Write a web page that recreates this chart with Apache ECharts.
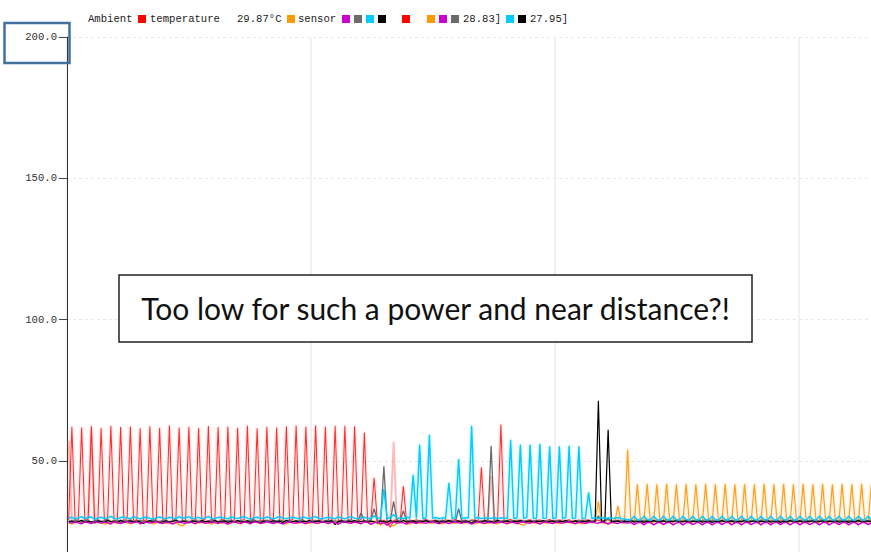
<!DOCTYPE html>
<html><head><meta charset="utf-8">
<script src="https://cdn.jsdelivr.net/npm/echarts@6/dist/echarts.min.js"></script>
<style>html,body{margin:0;padding:0;background:#fff}#c{width:871px;height:552px}</style>
</head><body><div id="c"></div><script>
// y axis ticks
const yTickMin = 0, yTickMax = 200, yTickStep = 50;

// Series values, one value per sample
const redSensor = [
29.0,62.0,28.6,29.2,61.8,28.8,29.4,62.3,28.5,29.1,
61.6,28.9,29.3,62.4,28.4,29.0,61.9,28.7,29.5,62.1,
28.6,29.2,61.5,28.8,29.0,62.2,28.5,29.4,61.7,28.9,
29.1,62.5,28.6,29.3,61.8,28.7,29.0,62.0,28.4,29.2,
61.6,28.8,29.4,62.3,28.6,29.1,61.9,28.9,29.3,62.1,
28.5,29.0,61.7,28.7,29.2,62.4,28.8,29.4,61.5,28.6,
29.1,62.0,28.9,29.3,61.8,28.5,29.0,62.2,28.7,29.4,
62.5,28.6,29.2,62.1,28.8,29.0,62.5,28.4,29.3,62.0,
28.7,29.1,62.4,28.6,29.2,62.4,28.9,29.0,62.2,28.5,
29.3,60.0,28.6,29.0,44.0,28.2,27.5,29.0,28.0,26.5,
28.8,29.2,28.5,41.0,28.3,29.0,28.6,29.1,28.4,28.9,
29.2,28.5,28.8,29.0,28.3,28.7,29.1,28.6,28.9,29.2,
28.4,28.8,29.0,28.5,28.9,29.1,28.6,47.7,28.7,29.0,
28.4,28.8,29.1,62.8,28.5,28.9,29.2,28.6,28.8,29.0,
28.5,28.9,29.1,28.6,28.7,29.0,28.4,28.8,29.2,28.5,
28.9,29.0,28.6,28.8,29.1,28.5,28.7,29.0,28.4,28.9,
29.1,28.6,28.8,29.0,28.5,28.9,29.2,28.6,28.7,29.0,
28.4,28.8,29.1,28.5,28.9,29.0,28.6,28.8,29.1,28.5,
28.7,29.0,28.4,28.9,29.2,28.6,28.8,29.0,28.5,28.9,
29.1,28.6,28.7,29.0,28.4,28.8,29.2,28.5,28.9,29.0,
28.6,28.8,29.1,28.5,28.7,29.0,28.4,28.9,29.1,28.6,
28.8,29.0,28.5,28.9,29.2,28.6,28.7,29.0,28.4,28.8,
29.1,28.5,28.9,29.0,28.6,28.8,29.1,28.5,28.7,29.0,
28.4,28.9,29.2,28.6,28.8,29.0,28.5,28.9,29.1,28.6,
28.7,29.0,28.4,28.8,29.2,28.5,28.9,29.0,28.6,28.8
];
const pinkSensor = [
57.0,28.6,28.9,28.4,28.7,29.0,28.5,60.8,28.6,28.9,
28.4,28.7,29.0,28.5,28.8,28.6,28.9,28.4,28.7,29.0,
28.5,28.8,28.6,28.9,28.4,28.7,29.0,28.5,28.8,28.6,
28.9,28.4,28.7,29.0,28.5,28.8,28.6,28.9,28.4,28.7,
29.0,28.5,28.8,28.6,28.9,28.4,28.7,29.0,28.5,28.8,
28.6,28.9,28.4,28.7,29.0,28.5,28.8,28.6,28.9,28.4,
28.7,29.0,28.5,28.8,28.6,28.9,28.4,28.7,29.0,28.5,
28.8,28.6,28.9,28.4,28.7,29.0,28.5,28.8,28.6,28.9,
28.4,28.7,29.0,28.5,28.8,28.6,28.9,28.4,28.7,29.0,
28.5,28.8,28.6,28.9,28.4,28.7,29.0,28.5,28.8,28.6,
56.7,28.4,28.7,29.0,28.5,28.8,28.6,28.9,28.4,28.7,
29.0,28.5,28.8,28.6,28.9,28.4,28.7,29.0,28.5,28.8,
28.6,28.9,28.4,28.7,29.0,28.5,28.8,28.6,28.9,28.4,
44.7,29.0,28.5,28.8,28.6,28.9,28.4,28.7,29.0,28.5,
28.8,28.6,28.9,28.4,28.7,29.0,28.5,28.8,28.6,28.9,
28.4,28.7,29.0,28.5,28.8,28.6,28.9,28.4,28.7,29.0,
28.5,28.8,28.6,28.9,28.4,28.7,29.0,28.5,28.8,28.6,
28.9,28.4,28.7,29.0,28.5,28.8,28.6,28.9,28.4,28.7,
29.0,28.5,28.8,28.6,28.9,28.4,28.7,29.0,28.5,28.8,
28.6,28.9,28.4,28.7,29.0,28.5,28.8,28.6,28.9,28.4,
28.7,29.0,28.5,28.8,28.6,28.9,28.4,28.7,29.0,28.5,
28.8,28.6,28.9,28.4,28.7,29.0,28.5,28.8,28.6,28.9,
28.4,28.7,29.0,28.5,28.8,28.6,28.9,28.4,28.7,29.0,
28.5,28.8,28.6,28.9,28.4,28.7,29.0,28.5,28.8,28.6,
28.9,28.4,28.7,29.0,28.5,28.8,28.6,28.9,28.4,28.7
];
const orangeSensor = [
28.0,27.6,28.4,28.2,27.9,28.5,28.1,27.8,28.3,28.6,
28.2,27.5,28.0,28.4,28.1,27.9,28.3,28.5,28.0,27.7,
28.2,28.6,28.1,27.9,28.4,28.2,27.6,28.0,28.5,28.3,
27.8,28.1,28.4,28.0,27.4,26.9,27.8,28.3,28.5,28.1,
27.9,28.2,28.6,28.0,27.5,28.3,28.1,27.8,28.4,28.2,
27.9,28.5,28.0,27.6,28.3,28.1,27.9,28.4,28.2,27.7,
28.0,28.5,28.3,27.8,28.1,28.4,28.0,27.6,28.2,28.5,
28.1,27.9,28.3,28.0,27.7,28.4,28.2,27.9,28.5,28.1,
27.8,28.3,28.0,27.6,28.2,28.4,28.1,27.9,28.3,28.0,
27.7,28.4,28.2,27.9,28.5,28.0,27.3,28.1,28.3,27.6,
27.0,27.8,28.2,28.4,28.0,27.5,28.3,28.1,27.8,28.2,
28.5,28.0,27.9,28.3,28.1,27.6,28.2,28.4,28.0,27.8,
28.3,28.1,27.9,28.4,28.2,27.7,28.0,28.5,28.1,27.8,
28.3,28.0,27.6,28.2,28.4,28.1,27.9,28.3,28.0,27.5,
27.2,28.1,28.3,28.0,27.8,28.4,28.2,27.9,28.1,28.3,
28.0,27.7,28.2,28.4,28.1,27.9,28.3,28.0,27.6,28.2,
28.4,28.0,28.6,35.6,28.2,27.8,28.0,28.3,28.0,34.0,
28.1,27.9,53.9,28.3,28.0,41.7,28.2,28.0,41.8,28.1,
28.2,41.7,28.0,28.3,41.8,28.1,28.0,41.7,28.2,28.1,
41.8,28.0,28.3,41.7,28.1,28.2,41.8,28.0,28.1,41.7,
28.3,28.0,41.8,28.2,28.1,41.7,28.0,28.3,41.8,28.1,
28.2,41.7,28.0,28.1,41.8,28.3,28.0,41.7,28.2,28.1,
41.8,28.0,28.3,41.7,28.1,28.2,41.8,28.0,28.1,41.7,
28.3,28.0,41.8,28.2,28.1,41.7,28.0,28.3,41.8,28.1,
28.2,41.7,28.0,28.1,41.8,28.3,28.0,41.7,28.2,28.1
];
const magentaSensor = [
28.2,27.9,28.4,28.0,27.7,28.3,28.1,27.8,28.5,28.2,
27.9,28.3,28.0,27.6,28.4,28.1,27.8,28.2,28.5,27.9,
28.1,28.4,27.7,28.0,28.3,27.9,28.2,28.5,28.0,27.8,
28.3,28.1,27.6,28.2,28.4,28.0,27.9,28.3,28.1,27.7,
28.4,28.2,27.9,28.0,28.5,28.1,27.8,28.3,28.0,27.6,
28.2,28.4,28.0,27.9,28.3,28.1,27.7,28.4,28.2,27.9,
28.0,28.5,28.1,27.8,28.3,28.0,27.6,28.2,28.4,28.0,
27.9,28.3,28.1,27.7,28.4,28.2,27.9,28.0,28.5,28.1,
27.8,28.3,28.0,27.6,28.2,28.4,28.0,27.9,28.3,28.1,
27.7,28.4,28.2,27.5,28.0,28.3,27.8,28.1,27.2,28.0,
28.4,27.9,28.2,28.0,27.6,28.3,28.1,27.8,28.4,28.0,
27.9,28.2,28.5,28.0,27.7,28.3,28.1,27.8,28.2,28.4,
28.0,27.9,28.3,28.1,27.6,28.2,28.4,28.0,27.8,28.3,
28.1,27.9,28.2,28.4,28.0,27.7,28.3,28.1,27.8,28.2,
28.4,28.0,27.9,28.3,28.1,27.6,28.2,28.4,28.0,27.8,
28.3,28.1,27.9,28.2,28.4,28.0,27.7,28.3,28.1,27.8,
28.2,28.4,28.0,27.9,28.3,28.1,27.6,28.2,28.0,27.8,
28.3,28.1,27.9,28.2,27.4,28.0,28.2,27.3,28.1,28.2,
27.3,28.0,28.2,27.4,28.1,28.2,27.3,28.0,28.2,27.3,
28.1,28.2,27.4,28.0,28.2,27.3,28.1,28.2,27.3,28.0,
28.2,27.4,28.1,28.2,27.3,28.0,28.2,27.3,28.1,28.2,
27.4,28.0,28.2,27.3,28.1,28.2,27.3,28.0,28.2,27.4,
28.1,28.2,27.3,28.0,28.2,27.3,28.1,28.2,27.4,28.0,
28.2,27.3,28.1,28.2,27.3,28.0,28.2,27.4,28.1,28.2,
27.3,28.0,28.2,27.3,28.1,28.2,27.4,28.0,28.2,27.3
];
const graySensor = [
28.8,28.4,29.1,28.6,28.3,28.9,28.7,28.2,28.8,29.0,
28.5,28.7,29.2,28.4,28.6,28.9,28.3,28.8,28.6,29.1,
28.4,28.7,28.9,28.5,28.2,28.8,29.0,28.6,28.4,28.9,
28.7,28.3,28.8,29.1,28.5,28.6,28.9,28.4,28.7,29.0,
28.5,28.8,28.3,28.6,29.2,28.7,28.4,28.9,28.6,28.8,
29.0,28.4,28.7,28.9,28.3,28.6,28.8,29.1,28.5,28.7,
28.4,28.9,28.6,28.2,28.8,29.0,28.5,28.7,28.9,28.4,
28.6,28.8,29.1,28.5,28.3,28.7,28.9,28.6,28.4,28.8,
29.0,28.5,28.7,28.3,28.9,28.6,28.8,29.1,28.4,28.7,
31.6,28.5,28.8,29.0,33.0,28.6,28.9,48.0,28.4,28.7,
35.6,28.8,28.5,32.3,28.7,28.9,28.4,28.6,28.8,28.5,
28.9,28.7,28.4,28.8,28.6,29.0,28.5,28.7,28.9,28.4,
33.0,28.6,28.8,28.5,28.9,28.7,28.4,28.8,28.6,29.0,
55.3,28.5,28.8,28.6,28.9,28.4,28.7,28.8,28.5,28.9,
28.6,28.8,28.4,28.7,29.0,28.5,28.8,28.6,28.9,28.4,
28.7,28.8,28.5,28.9,28.6,28.4,28.8,28.7,29.0,28.5,
28.8,28.6,28.9,30.5,28.7,28.8,29.5,28.6,28.9,28.5,
28.7,28.8,28.4,28.9,28.6,28.8,28.5,28.7,28.9,28.4,
28.8,28.6,28.7,28.9,28.5,28.8,28.6,28.7,28.9,28.4,
28.8,28.6,28.7,28.9,28.5,28.8,28.6,28.7,28.9,28.4,
28.8,28.6,28.7,28.9,28.5,28.8,28.6,28.7,28.9,28.4,
28.8,28.6,28.7,28.9,28.5,28.8,28.6,28.7,28.9,28.4,
28.8,28.6,28.7,28.9,28.5,28.8,28.6,28.7,28.9,28.4,
28.8,28.6,28.7,28.9,28.5,28.8,28.6,28.7,28.9,28.4,
28.8,28.6,28.7,28.9,28.5,28.8,28.6,28.7,28.9,28.4
];
const blackSensor = [
28.3,28.7,28.1,28.5,28.9,28.2,28.6,28.4,28.0,28.7,
28.5,28.2,28.8,28.4,28.6,28.1,28.9,28.3,28.5,28.7,
28.2,28.6,28.4,27.8,28.5,28.8,28.3,28.6,28.1,28.4,
28.7,28.3,28.5,28.9,28.2,28.6,28.4,28.0,28.7,28.5,
28.2,28.8,28.4,28.6,28.1,28.9,28.3,28.5,28.7,28.2,
28.6,28.4,28.8,28.3,28.5,28.7,28.2,28.6,28.4,28.0,
28.7,28.5,28.2,28.8,28.4,28.6,28.1,28.9,28.3,28.5,
28.7,28.2,28.6,28.4,28.8,28.3,28.5,28.7,28.2,28.6,
28.4,28.8,27.4,28.5,28.7,28.2,28.6,28.4,28.8,28.3,
28.5,28.7,28.2,28.6,28.4,28.0,28.7,28.5,28.2,28.8,
28.4,28.6,28.1,28.9,28.3,28.5,28.7,28.2,28.6,28.4,
28.8,28.3,28.5,28.7,28.2,28.6,28.4,28.8,28.3,28.5,
28.7,28.2,28.6,28.4,28.0,28.7,28.5,28.2,28.8,28.4,
28.6,28.1,28.9,28.3,28.5,28.7,28.2,28.6,28.4,28.8,
28.3,28.5,28.7,28.2,28.6,28.4,28.8,28.3,28.5,28.7,
28.2,28.6,28.4,28.8,28.3,28.5,28.7,28.2,28.6,28.4,
28.8,28.3,28.5,71.2,28.4,28.6,61.0,28.3,28.5,28.7,
28.2,28.6,28.4,28.8,28.3,28.5,28.7,28.2,28.6,28.4,
28.8,28.3,28.5,28.7,28.2,28.6,28.4,28.8,28.3,28.5,
28.7,28.2,28.6,28.4,28.8,28.3,28.5,28.7,28.2,28.6,
28.4,28.8,28.3,28.5,28.7,28.2,28.6,28.4,28.8,28.3,
28.5,28.7,28.2,28.6,28.4,28.8,28.3,28.5,28.7,28.2,
28.6,28.4,28.8,28.3,28.5,28.7,28.2,28.6,28.4,28.8,
28.3,28.5,28.7,28.2,28.6,28.4,28.8,28.3,28.5,28.7,
28.2,28.6,28.4,28.8,28.3,28.5,28.7,28.2,28.6,28.4
];
const cyanSensor = [
29.6,30.0,29.4,29.8,30.2,29.5,29.9,30.1,29.3,29.7,
30.0,29.5,29.8,30.3,29.6,29.4,29.9,30.1,29.7,29.5,
30.2,29.8,29.4,29.9,30.0,29.6,29.3,29.8,30.1,29.7,
29.5,30.0,29.8,29.4,30.2,29.6,29.9,30.1,29.5,29.7,
30.0,29.4,29.8,30.3,29.6,29.5,29.9,30.0,29.7,29.4,
30.1,29.8,29.5,29.9,30.2,29.6,29.4,29.8,30.0,29.7,
29.5,30.1,29.8,29.3,29.9,30.2,29.6,29.5,29.8,30.0,
29.7,29.4,30.1,29.8,29.5,29.9,30.2,29.6,29.4,29.8,
30.0,29.7,29.5,30.1,29.8,29.4,29.9,30.2,29.6,29.5,
29.8,30.0,29.7,29.4,30.5,29.6,29.8,40.0,29.5,29.9,
31.0,29.6,29.8,29.5,30.0,29.7,45.0,29.6,55.7,29.5,
29.8,59.2,29.6,29.9,29.5,29.8,29.7,42.2,29.6,29.9,
50.6,29.5,29.8,29.7,62.4,29.6,29.9,29.5,29.8,29.7,
29.6,29.9,29.5,29.8,29.7,29.6,57.4,29.5,29.8,55.7,
29.6,29.9,55.7,29.5,29.8,56.0,29.6,29.7,55.1,29.5,
29.8,55.1,29.6,29.9,55.3,29.5,29.8,55.1,29.6,29.7,
38.8,29.5,29.8,29.6,29.9,29.5,29.8,29.7,29.6,29.9,
29.5,29.3,29.1,29.0,30.4,29.1,29.0,30.4,29.2,29.0,
30.4,29.1,29.0,30.4,29.2,29.0,30.4,29.1,29.0,30.4,
29.2,29.0,30.4,29.1,29.0,30.4,29.2,29.0,30.4,29.1,
29.0,30.4,29.2,29.0,30.4,29.1,29.0,30.4,29.2,29.0,
30.4,29.1,29.0,30.4,29.2,29.0,30.4,29.1,29.0,30.4,
29.2,29.0,30.4,29.1,29.0,30.4,29.2,29.0,30.4,29.1,
29.0,30.4,29.2,29.0,30.4,29.1,29.0,30.4,29.2,29.0,
30.4,29.1,29.0,30.4,29.2,29.0,30.4,29.1,29.0,30.4
];
// category labels: sample number
const sampleNo = redSensor.map((_, i) => String(i + 1));

// Legend texts as shown (partly garbled in the original)
const legendTexts = ['Ambient', 'temperature', '29.87\u00b0C', 'sensor', '28.83]', '27.95]'];
const noteText = 'Too low for such a power and near distance?!';

const C = {red:'#ff0000', pink:'#ff8a8a', orange:'#ff9900', magenta:'#cc00cc', gray:'#6b6b6b', cyan:'#00ccff', black:'#000000'};

function line(name, data, color, width, extra) {
  return Object.assign({
    name, type:'line', data, symbol:'none', silent:true,
    lineStyle:{color, width}, itemStyle:{color}
  }, extra || {});
}

const mono = 'Liberation Mono, DejaVu Sans Mono, monospace';
const sq = (x, color) => ({type:'rect', z:100, shape:{x:x, y:15, width:8, height:8}, style:{fill:color}});
const tx = (x, t) => ({type:'text', z:100, x:x, y:19, style:{text:t, font:'10.6px ' + mono, fill:'#222', textVerticalAlign:'middle'}});

const chart = echarts.init(document.getElementById('c'), null, {renderer:'svg'});
chart.setOption({
  animation:false,
  backgroundColor:'#ffffff',
  grid:{left:67, top:37, width:sampleNo.length * 3.25, height:565, containLabel:false, outerBoundsMode:'none'},
  xAxis:{type:'category', data:sampleNo, boundaryGap:true,
    axisLine:{show:false}, axisTick:{show:false}, axisLabel:{show:false},
    splitLine:{show:true, interval:74, lineStyle:{color:'#ededed', width:1.5}}},
  yAxis:{type:'value', min:yTickMin, max:yTickMax, interval:yTickStep,
    axisLine:{show:true, lineStyle:{color:'#333', width:1}},
    axisTick:{show:true, length:8, lineStyle:{color:'#444'}},
    axisLabel:{formatter:v => v.toFixed(1), fontFamily:mono, fontSize:10.6, color:'#333', margin:10, showMinLabel:false},
    splitLine:{show:true, lineStyle:{color:'#e8e8e8', type:[3,3], width:1}}},
  series:[
    line('temperature 2', pinkSensor, C.pink, 2, {lineStyle:{color:C.pink, width:2, opacity:0.6}}),
    line('temperature', redSensor, C.red, 1.2, {lineStyle:{color:C.red, width:1.1, opacity:0.85, shadowColor:'rgba(255,120,120,0.6)', shadowBlur:3}}),
    line('sensor', orangeSensor, C.orange, 1.3, {lineStyle:{color:C.orange, width:1.2, opacity:0.9, shadowColor:'rgba(255,180,80,0.6)', shadowBlur:3}}),
    line('gray', graySensor, C.gray, 1.3),
    line('black', blackSensor, C.black, 1.2),
    line('magenta', magentaSensor, C.magenta, 1.4),
    line('cyan', cyanSensor, C.cyan, 1.4, {lineStyle:{color:C.cyan, width:1.4, shadowColor:'rgba(0,200,255,0.4)', shadowBlur:3}})
  ],
  graphic:{elements:[
    tx(88, legendTexts[0]), sq(138, C.red), tx(150, legendTexts[1]), tx(237, legendTexts[2]),
    sq(287, C.orange), tx(298, legendTexts[3]),
    sq(342, C.magenta), sq(354, C.gray), sq(366, C.cyan), sq(378, C.black),
    sq(402, C.red), sq(427, C.orange), sq(439, C.magenta), sq(451, C.gray),
    tx(463, legendTexts[4]), sq(506, C.cyan), sq(518, C.black), tx(530, legendTexts[5]),
    {type:'rect', z:100, shape:{x:4.5, y:23, width:65, height:40}, style:{fill:'none', stroke:'#41719c', lineWidth:2.5}},
    {type:'rect', z:100, shape:{x:119, y:275, width:633, height:67}, style:{fill:'#ffffff', stroke:'#222', lineWidth:1.5}},
    {type:'text', z:101, x:435.5, y:308, style:{text:noteText, font:'30px Lato, "Noto Sans", sans-serif', fill:'#111', textAlign:'center', textVerticalAlign:'middle'}}
  ]}
});
</script></body></html>
